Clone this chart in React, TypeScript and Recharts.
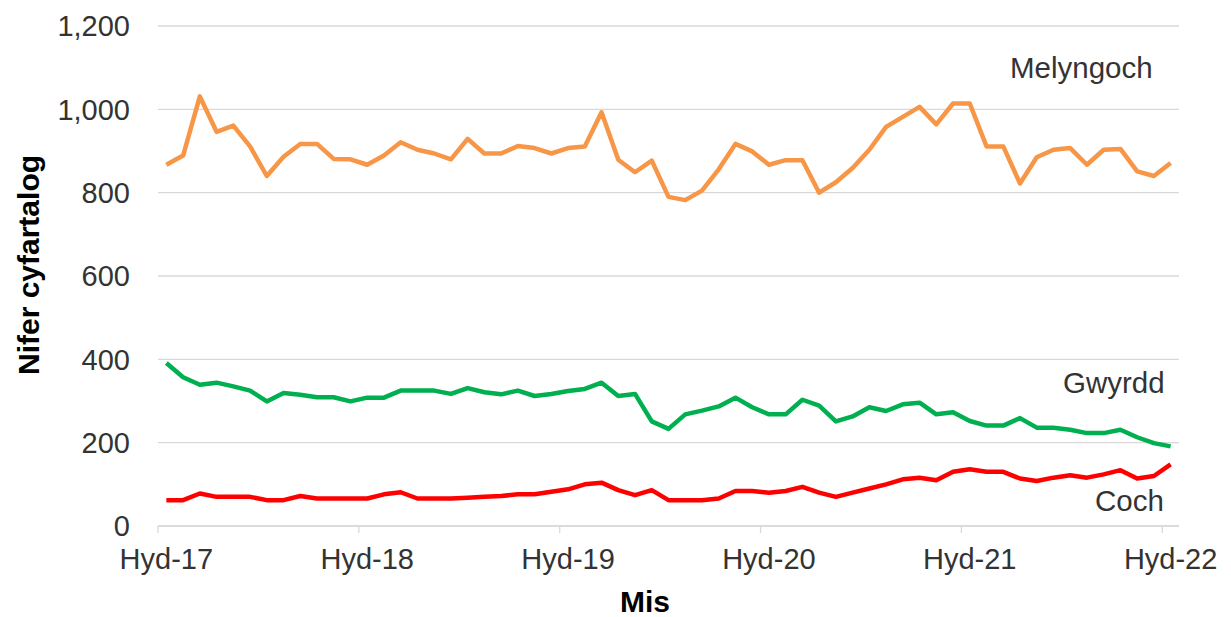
import { LineChart, Line, XAxis, YAxis, CartesianGrid, Label } from 'recharts'

const MONTHS = ['Ion', 'Chwe', 'Maw', 'Ebr', 'Mai', 'Meh', 'Gor', 'Awst', 'Medi', 'Hyd', 'Tach', 'Rhag']
const START_YEAR = 2017
const START_MONTH = 9 // Hyd

const TICK_INDEX = [0, 12, 24, 36, 48, 60]
const TICK_LABELS = ['Hyd-17', 'Hyd-18', 'Hyd-19', 'Hyd-20', 'Hyd-21', 'Hyd-22']
const Y_TICKS = [0, 200, 400, 600, 800, 1000, 1200]

const MELYNGOCH = [
  867, 889, 1031, 946, 961, 911, 840, 886, 917, 917, 881, 880,
  867, 889, 921, 903, 894, 880, 929, 894, 894, 912, 907, 894,
  907, 911, 993, 879, 849, 877, 790, 782, 805, 856, 917, 899,
  867, 878, 878, 800, 825, 859, 903, 958, 982, 1006, 964, 1014,
  1014, 911, 911, 822, 885, 903, 907, 867, 903, 905, 851, 840,
  871,
]

const GWYRDD = [
  391, 357, 339, 344, 335, 325, 299, 319, 315, 309, 309, 299,
  308, 308, 325, 325, 325, 317, 331, 321, 316, 325, 312, 317,
  324, 329, 344, 312, 317, 251, 233, 268, 277, 287, 308, 285,
  268, 268, 303, 289, 251, 263, 285, 276, 292, 296, 268, 273,
  252, 241, 241, 259, 236, 236, 231, 223, 223, 231, 213, 199,
  191,
]

const COCH = [
  62, 62, 78, 70, 70, 70, 62, 62, 72, 66, 66, 66,
  66, 76, 81, 66, 66, 66, 68, 70, 72, 76, 76, 82,
  88, 100, 104, 86, 74, 86, 62, 62, 62, 66, 84, 84,
  80, 84, 94, 80, 70, 80, 90, 100, 112, 116, 110, 130,
  136, 130, 130, 114, 108, 116, 122, 116, 124, 134, 114, 120,
  148,
]

const WIDTH = 1231
const HEIGHT = 617
const MARGIN = { top: 26, right: 52, bottom: 31, left: 0 }
const Y_AXIS_W = 158
const X_AXIS_H = 60
const FONT = '"Liberation Sans", Arial, sans-serif'
const TICK_SIZE = 29
const LABEL_SIZE = 29.5
const TITLE_SIZE = 30
const TEXT = '#333333'
const GRID = '#d9d9d9'
const X_TICK_MARGIN = 22

const PLOT_W = WIDTH - MARGIN.left - MARGIN.right - Y_AXIS_W
const HALF_STEP = PLOT_W / MELYNGOCH.length / 2

const data = MELYNGOCH.map((v, i) => {
  const m = START_MONTH + i
  return {
    idx: i,
    month: `${MONTHS[m % 12]}-${String(START_YEAR + Math.floor(m / 12)).slice(2)}`,
    melyngoch: v,
    gwyrdd: GWYRDD[i],
    coch: COCH[i],
  }
})

function XTick({ x, y, payload }: any) {
  const label = TICK_LABELS[TICK_INDEX.indexOf(payload.value)] ?? ''
  const axisY = y - X_TICK_MARGIN
  return (
    <g>
      <line x1={x - HALF_STEP} x2={x - HALF_STEP} y1={axisY} y2={axisY + 7} stroke={GRID} strokeWidth={1.3} />
      <text x={x} y={y} dy="0.71em" textAnchor="middle" fill={TEXT} fontSize={TICK_SIZE} fontFamily={FONT}>
        {label}
      </text>
    </g>
  )
}

export default function App() {
  return (
    <div style={{ position: 'absolute', left: 0, top: 0, width: WIDTH, height: HEIGHT, background: '#fff' }}>
      <LineChart width={WIDTH} height={HEIGHT} data={data} margin={MARGIN}>
        <CartesianGrid vertical={false} stroke={GRID} strokeWidth={1.3} />
        <XAxis
          dataKey="idx"
          type="number"
          domain={[-0.5, MELYNGOCH.length - 0.5]}
          ticks={TICK_INDEX}
          interval={0}
          height={X_AXIS_H}
          axisLine={{ stroke: GRID, strokeWidth: 1.3 }}
          tickLine={false}
          tickSize={0}
          tickMargin={X_TICK_MARGIN}
          tick={<XTick />}
        >
          <Label
            content={() => (
              <text x={645} y={612} textAnchor="middle" fontWeight="bold" fill="#000" fontSize={TITLE_SIZE} fontFamily={FONT}>
                Mis
              </text>
            )}
          />
        </XAxis>
        <YAxis
          type="number"
          domain={[0, 1200]}
          ticks={Y_TICKS}
          width={Y_AXIS_W}
          axisLine={false}
          tickLine={false}
          tickSize={0}
          tickMargin={28}
          tick={{ fill: TEXT, fontSize: TICK_SIZE, fontFamily: FONT }}
          tickFormatter={(v: number) => v.toLocaleString('en-US')}
        >
          <Label
            content={() => (
              <text
                x={28}
                y={265}
                transform="rotate(-90 28 265)"
                textAnchor="middle"
                dominantBaseline="central"
                fontWeight="bold"
                fill="#000"
                fontSize={TITLE_SIZE}
                fontFamily={FONT}
              >
                Nifer cyfartalog
              </text>
            )}
          />
        </YAxis>
        <Line type="linear" dataKey="melyngoch" stroke="#f79646" strokeWidth={4.5} dot={false} isAnimationActive={false} strokeLinejoin="round" />
        <Line type="linear" dataKey="gwyrdd" stroke="#00b050" strokeWidth={4.5} dot={false} isAnimationActive={false} strokeLinejoin="round" />
        <Line type="linear" dataKey="coch" stroke="#ff0000" strokeWidth={4.5} dot={false} isAnimationActive={false} strokeLinejoin="round" />
      </LineChart>
      <svg width={WIDTH} height={HEIGHT} style={{ position: 'absolute', left: 0, top: 0, pointerEvents: 'none' }}>
        <g fontFamily={FONT} fontSize={LABEL_SIZE} fill={TEXT}>
          <text x={1010} y={78}>Melyngoch</text>
          <text x={1063} y={393}>Gwyrdd</text>
          <text x={1095} y={511}>Coch</text>
        </g>
      </svg>
    </div>
  )
}
